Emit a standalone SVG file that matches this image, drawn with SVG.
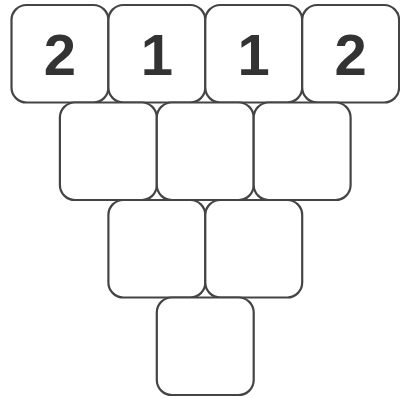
<svg xmlns="http://www.w3.org/2000/svg" width="400" height="398" viewBox="0 0 400 398">
<style>
.c{fill:#fff;stroke:#444;stroke-width:2.2}
.t{font-family:"Liberation Sans",Arial,sans-serif;font-weight:bold;font-size:58px;fill:#333;text-anchor:middle}
</style>
<defs><rect id="b" width="96.9" height="97.5" rx="15" ry="15"/></defs>
<rect width="400" height="398" fill="#fff"/>
<g id="connectors"/>
<g id="r1n1"><use href="#b" class="c" x="11.5" y="5"/><text class="t" x="59.9" y="75">2</text></g>
<g id="r1n2"><use href="#b" class="c" x="108.4" y="5"/><text class="t" x="156.8" y="75">1</text></g>
<g id="r1n3"><use href="#b" class="c" x="205.3" y="5"/><text class="t" x="253.7" y="75">1</text></g>
<g id="r1n4"><use href="#b" class="c" x="302.2" y="5"/><text class="t" x="350.6" y="75">2</text></g>
<g id="r2n1"><use href="#b" class="c" x="59.9" y="102.5"/></g>
<g id="r2n2"><use href="#b" class="c" x="156.8" y="102.5"/></g>
<g id="r2n3"><use href="#b" class="c" x="253.7" y="102.5"/></g>
<g id="r3n1"><use href="#b" class="c" x="108.4" y="200"/></g>
<g id="r3n2"><use href="#b" class="c" x="205.3" y="200"/></g>
<g id="r4n1"><use href="#b" class="c" x="156.8" y="297.5"/></g>
</svg>
